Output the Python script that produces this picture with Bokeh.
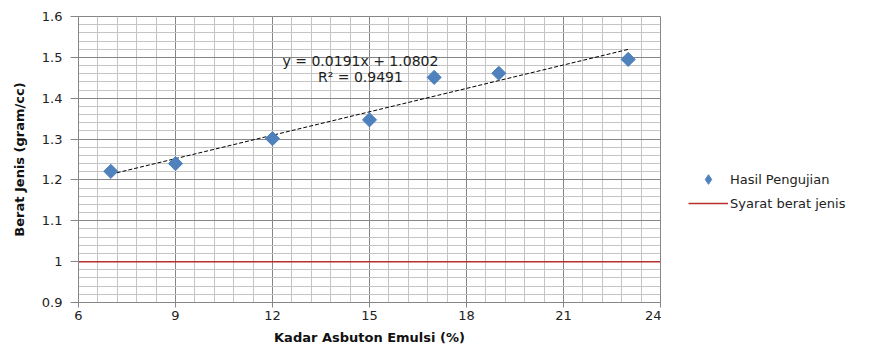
import math
from bokeh.plotting import figure
from bokeh.layouts import row
from bokeh.models import (FixedTicker, CustomJSTickFormatter, Legend, LegendItem,
                          Label, Range1d)
from bokeh.embed import file_html
from bokeh.resources import INLINE

# ---- data ----
kadar = [7, 9, 12, 15, 17, 19, 23]
berat_jenis = [1.221, 1.240, 1.301, 1.347, 1.451, 1.461, 1.495]
trend_slope = 0.0191
trend_intercept = 1.0802
r2 = 0.9491
syarat_x = [6, 24]
syarat_y = [1.0, 1.0]
x_ticks = [6, 9, 12, 15, 18, 21, 24]
y_ticks = [0.9, 1.0, 1.1, 1.2, 1.3, 1.4, 1.5, 1.6]
legend_labels = ["Hasil Pengujian", "Syarat berat jenis"]

FONT = "DejaVu Sans"
BLUE = "#4f81bd"
RED = "#b8302e"

p = figure(width=661, height=351, output_backend="svg", toolbar_location=None,
           x_range=Range1d(6, 24), y_range=Range1d(0.9, 1.6),
           min_border_left=78, min_border_right=1, min_border_top=16,
           min_border_bottom=49)
p.outline_line_color = "#868686"

x_minor = [6 + 0.6 * i for i in range(31)]
y_minor = [0.9 + 0.02 * i for i in range(36)]
p.xaxis.ticker = FixedTicker(ticks=x_ticks, minor_ticks=x_minor)
p.yaxis.ticker = FixedTicker(ticks=y_ticks, minor_ticks=y_minor)
p.yaxis.formatter = CustomJSTickFormatter(code="return String(Number(tick.toFixed(2)));")

for ax in (p.xaxis, p.yaxis):
    ax.axis_line_color = "#868686"
    ax.major_tick_line_color = "#868686"
    ax.minor_tick_line_color = None
    ax.major_tick_in = 0
    ax.major_label_text_font = FONT
    ax.major_label_text_font_size = "13px"
    ax.major_label_text_color = "#222222"
    ax.axis_label_text_font = FONT
    ax.axis_label_text_font_size = "13px"
    ax.axis_label_text_font_style = "bold"
    ax.axis_label_text_color = "#111111"

p.xaxis.axis_label = "Kadar Asbuton Emulsi (%)"
p.yaxis.axis_label = "Berat Jenis (gram/cc)"
p.xaxis.major_tick_out = 5
p.yaxis.major_tick_out = 8
p.xaxis.major_label_standoff = 3
p.yaxis.major_label_standoff = 8
p.xaxis.axis_label_standoff = 7
p.yaxis.axis_label_standoff = 12

for g in (p.xgrid, p.ygrid):
    g.grid_line_color = "#868686"
    g.grid_line_width = 1
    g.minor_grid_line_color = "#c4c4c4"
    g.minor_grid_line_width = 1

# trendline
tx = [min(kadar), max(kadar)]
ty = [trend_slope * v + trend_intercept for v in tx]
p.line(tx, ty, line_color="black", line_width=1, line_dash="4 2")

# red requirement line
p.line(syarat_x, syarat_y, line_color=RED, line_width=1.5)

# data points (diamonds)
p.scatter(kadar, berat_jenis, marker="square", size=10, angle=math.pi / 4,
          fill_color=BLUE, line_color=BLUE)

eq_x = 14.72
p.add_layout(Label(x=eq_x, y=1.492, text=f"y = {trend_slope}x + {trend_intercept}",
                   text_font=FONT, text_font_size="14px", text_align="center",
                   text_baseline="middle", text_color="#222222"))
p.add_layout(Label(x=eq_x, y=1.451, text=f"R² = {r2}",
                   text_font=FONT, text_font_size="14px", text_align="center",
                   text_baseline="middle", text_color="#222222"))

# ---- legend panel ----
q = figure(width=210, height=351, output_backend="svg", toolbar_location=None,
           x_axis_type=None, y_axis_type=None, x_range=Range1d(0, 1),
           y_range=Range1d(0, 1), min_border=0)
q.outline_line_color = None
q.grid.visible = False
# legend-only renderers, placed outside the visible range
leg_pts = q.scatter([-5], [-5], marker="diamond", size=10,
                    fill_color=BLUE, line_color=BLUE)
leg_red = q.line([-5, -4], [-5, -5], line_color=RED, line_width=1.5)

legend = Legend(items=[LegendItem(label=legend_labels[0], renderers=[leg_pts]),
                       LegendItem(label=legend_labels[1], renderers=[leg_red])],
                location=(27, 87), border_line_color=None,
                background_fill_alpha=0, label_text_font=FONT,
                label_text_font_size="13px", label_text_color="#222222",
                glyph_width=40, glyph_height=24, spacing=0, padding=0, margin=0,
                label_standoff=2)
q.add_layout(legend, "center")

open("out.html", "w").write(file_html(row(p, q), INLINE))
